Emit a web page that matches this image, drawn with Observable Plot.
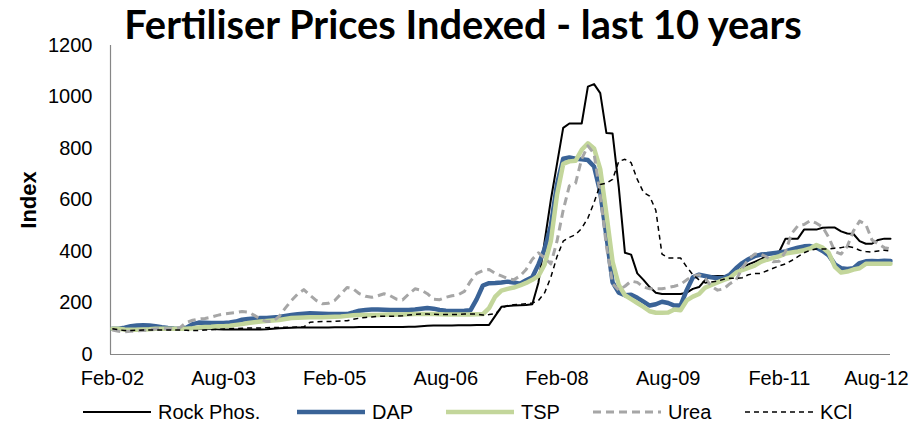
<!DOCTYPE html>
<html><head><meta charset="utf-8">
<script src="https://cdn.jsdelivr.net/npm/d3@7"></script>
<script src="https://cdn.jsdelivr.net/npm/@observablehq/plot@0.6"></script>
<style>
html,body{margin:0;padding:0;background:#fff;}
body{position:relative;width:910px;height:425px;overflow:hidden;font-family:"Liberation Sans",Arial,sans-serif;}
#title{position:absolute;left:8px;top:4px;width:910px;text-align:center;font-family:Lato,"Open Sans",sans-serif;font-weight:bold;font-size:39.8px;line-height:40px;color:#000;z-index:2;white-space:nowrap;}
#chart{position:absolute;left:0;top:37px;z-index:1;}
#legend{position:absolute;left:0;top:400px;width:910px;height:24px;}
.item{position:absolute;top:0;height:24px;font-size:20px;line-height:24px;white-space:nowrap;}
.item svg{position:absolute;left:0;top:0;}
.item span{position:absolute;top:0;}
</style></head><body>
<div id="title">Fertiliser Prices Indexed - last 10 years</div>
<div id="chart"></div>
<div id="legend"></div>
<script>
const seriesNames = ["Rock Phos.", "DAP", "TSP", "Urea", "KCl"];
const xTickIndex = [0, 18, 36, 54, 72, 90, 108, 126];
const xTickLabels = ["Feb-02", "Aug-03", "Feb-05", "Aug-06", "Feb-08", "Aug-09", "Feb-11", "Aug-12"];
const yTicks = [0, 200, 400, 600, 800, 1000, 1200];

// monthly index values, Feb-02 .. Aug-12 (127 months)
const rockPhos = [
100,100,100,100,100,100,100,100,100,100,
100,100,100,100,100,100,100,98,97,97,
97,97,97,97,97,98,100,102,103,104,
105,105,105,105,105,105,106,106,106,106,
107,107,107,107,107,107,107,107,108,108,
110,112,113,113,113,113,114,114,114,115,
115,115,150,185,188,190,191,192,195,280,
440,600,740,880,897,897,897,1040,1050,1015,
860,858,650,395,388,315,290,262,240,235,
235,235,235,240,255,262,290,305,305,305,
306,320,335,350,360,370,385,395,400,450,
450,450,485,485,485,492,493,493,478,470,
468,440,430,430,445,450,450];
const dap = [
100,100,104,110,113,114,113,110,106,103,
101,100,104,118,124,123,122,122,122,124,
128,135,138,140,142,142,144,146,150,153,
156,158,160,159,158,157,157,157,157,163,
170,173,175,175,174,173,173,173,173,175,
178,181,178,173,170,169,169,170,172,215,
268,277,278,280,283,280,275,288,300,350,
410,500,660,760,765,760,758,755,730,630,
460,280,240,230,232,220,205,190,195,205,
200,190,190,250,300,310,305,300,296,298,
310,335,355,370,382,388,390,393,396,400,
408,415,420,421,415,402,385,350,335,332,
335,355,362,363,362,364,363];
const tsp = [
100,100,97,96,96,97,98,100,100,100,
100,100,100,102,105,107,108,110,110,112,
115,118,122,125,128,130,132,134,138,142,
143,144,145,145,145,146,147,148,150,152,
153,153,153,153,154,155,155,155,156,157,
157,157,157,156,155,155,155,155,155,156,
157,180,225,248,255,260,268,278,290,305,
350,440,620,740,750,752,795,820,800,720,
545,360,270,230,215,200,185,168,162,162,
163,175,172,210,225,235,260,270,280,290,
298,318,328,336,345,360,368,375,382,392,
396,400,405,412,425,415,395,340,318,322,
330,335,352,352,352,352,352];
const urea = [
95,90,88,90,92,93,96,99,100,100,
100,105,125,133,138,140,145,152,157,160,
163,167,165,152,137,128,128,148,180,210,
235,252,230,210,197,199,210,235,260,255,
236,226,222,228,236,228,215,212,235,255,
250,236,215,213,222,228,232,245,285,315,
326,330,315,305,295,290,305,330,370,395,
375,352,440,560,655,665,760,810,780,620,
420,275,250,265,285,280,262,255,255,255,
260,265,272,290,305,310,295,265,250,255,
275,290,335,370,390,390,378,360,362,400,
470,500,505,520,510,495,455,400,390,420,
480,518,505,445,430,415,410];
const kcl = [
100,96,93,93,94,95,95,95,95,95,
95,95,94,93,93,95,96,97,99,100,
101,102,103,103,103,104,105,105,106,106,
107,107,125,127,128,128,129,130,131,137,
141,144,146,148,149,149,149,150,153,156,
157,157,156,155,155,155,156,157,157,157,
153,155,158,180,190,193,195,197,200,210,
240,300,380,440,455,465,490,530,590,660,
665,680,750,758,745,680,630,615,560,390,
375,375,375,340,310,290,278,282,285,292,
296,296,298,310,315,315,325,335,344,352,
365,380,395,405,410,410,410,413,415,420,
415,405,400,398,402,405,402];

const seriesValues = [rockPhos, dap, tsp, urea, kcl];
const seriesStyle = [
  {stroke: "#000000", strokeWidth: 2, dash: null},
  {stroke: "#3A6397", strokeWidth: 4.5, dash: null},
  {stroke: "#C3D69B", strokeWidth: 4.5, dash: null},
  {stroke: "#A6A6A6", strokeWidth: 3, dash: "8,5"},
  {stroke: "#000000", strokeWidth: 1.5, dash: "5,4"}
];

const data = seriesNames.flatMap((name, s) => seriesValues[s].map((v, i) => ({series: name, i, value: v})));

const lineMarks = seriesNames.map((name, s) => Plot.line(data.filter(d => d.series === name), {
  x: "i", y: "value", stroke: seriesStyle[s].stroke, strokeWidth: seriesStyle[s].strokeWidth,
  strokeDasharray: seriesStyle[s].dash, strokeLinejoin: "round", strokeLinecap: seriesStyle[s].dash ? "butt" : "round"
}));

const lastTick = xTickIndex[xTickIndex.length - 1];
const chart = Plot.plot({
  width: 910, height: 358,
  marginLeft: 110, marginRight: 20, marginTop: 8, marginBottom: 41,
  style: {fontFamily: "'Liberation Sans', Arial, sans-serif", fontSize: "20px", color: "#000", background: "transparent", overflow: "visible"},
  x: {domain: [-0.3, 126], axis: null},
  y: {domain: [0, 1200], axis: null},
  marks: [
    Plot.axisY(yTicks, {tickSize: 0, tickPadding: 18, label: null, fontSize: 20, tickFormat: d => String(d)}),
    Plot.axisX(xTickIndex.slice(0, -1), {tickSize: 0, tickPadding: 16, label: null, fontSize: 20, tickFormat: d => xTickLabels[xTickIndex.indexOf(d)]}),
    Plot.axisX([lastTick], {tickSize: 0, tickPadding: 16, label: null, fontSize: 20, dx: -14, tickFormat: d => xTickLabels[xTickIndex.indexOf(d)]}),
    Plot.ruleX([-0.3], {stroke: "#868686", strokeWidth: 1.2}),
    Plot.ruleY([0], {stroke: "#868686", strokeWidth: 1.2}),
    Plot.text(["Index"], {frameAnchor: "left", textAnchor: "middle", dx: -82, rotate: -90, fontWeight: "bold", fontSize: 22}),
    ...lineMarks
  ]
});
document.getElementById("chart").appendChild(chart);

// legend
const legendLeft = [82, 296, 445, 592, 744];
const legend = document.getElementById("legend");
seriesNames.forEach((name, s) => {
  const st = seriesStyle[s];
  const item = document.createElement("div");
  item.className = "item";
  item.style.left = legendLeft[s] + "px";
  item.innerHTML = `<svg width="70" height="24"><line x1="1" x2="69" y1="12" y2="12" stroke="${st.stroke}" stroke-width="${st.strokeWidth}" ${st.dash ? `stroke-dasharray="${st.dash}"` : ""}/></svg><span style="left:76px">${name}</span>`;
  legend.appendChild(item);
});
</script>
</body></html>
